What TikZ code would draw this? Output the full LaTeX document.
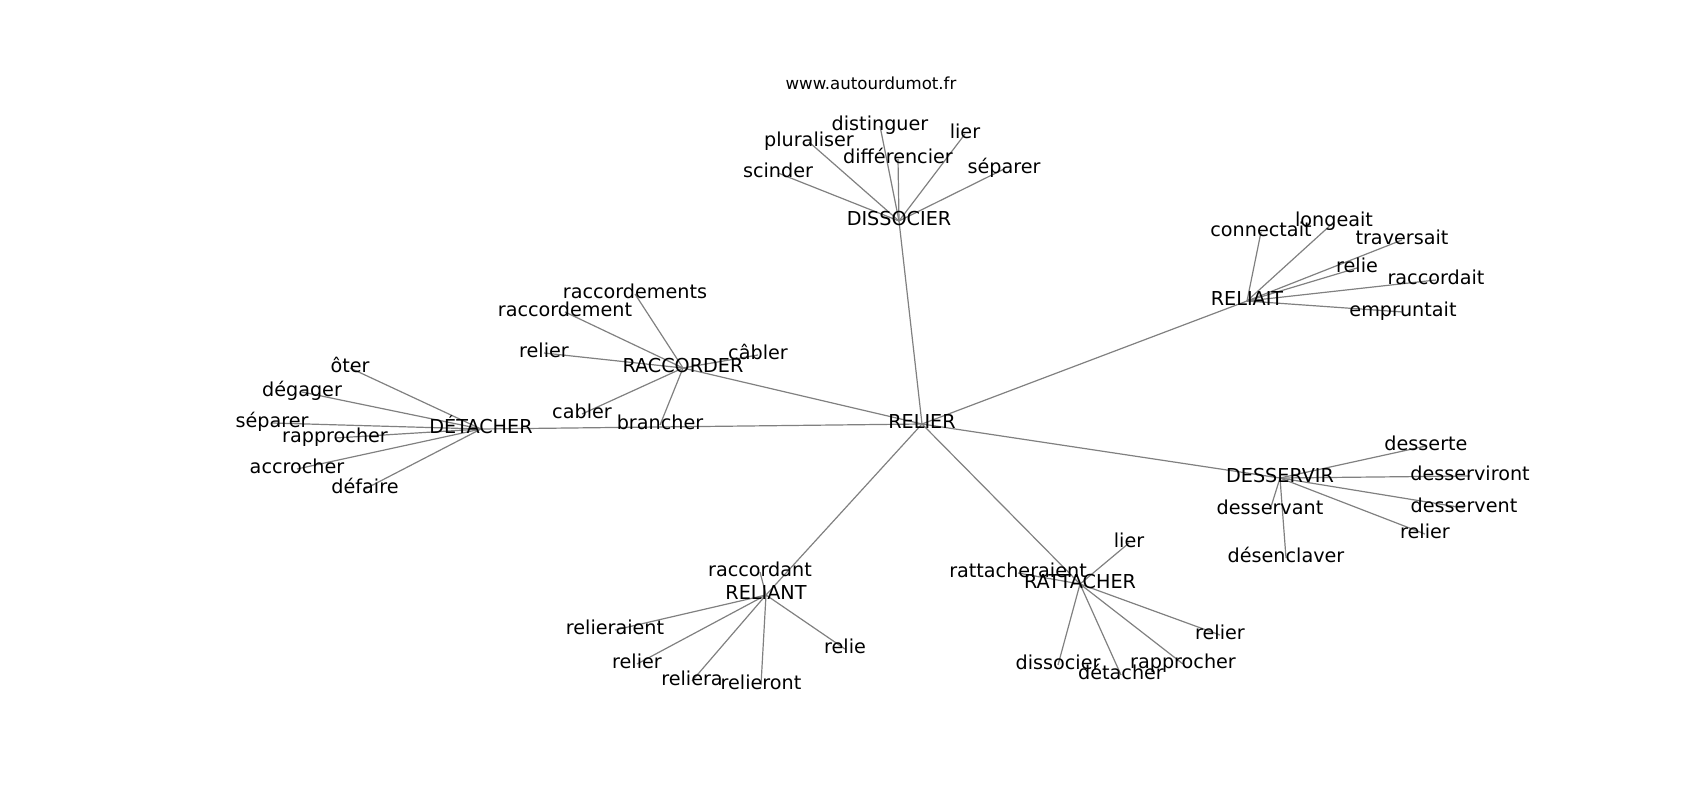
\documentclass[tikz,border=0pt]{standalone}
\usepackage{fontspec}
\setmainfont{DejaVu Sans}
\usetikzlibrary{backgrounds}
\definecolor{edgegray}{RGB}{128,128,128}
\tikzset{
  lbl/.style={inner sep=0pt, text height=1.09em, text depth=0.236em, anchor=center,
    font=\fontsize{19.2}{21}\selectfont, text=black},
  ttl/.style={inner sep=0pt, anchor=center, font=\fontsize{16.6}{18}\selectfont, text=black},
  edge/.style={draw=edgegray, line width=1.2pt}
}
\begin{document}
\begin{tikzpicture}[x=1pt,y=-1pt]
\useasboundingbox (0,0) rectangle (1700,800);
\node[ttl] (title) at (871,83) {www.autourdumot.fr};
% hubs
\node[lbl] (relier) at (922,424) {RELIER};
\node[lbl] (dissocier) at (899,221) {DISSOCIER};
\node[lbl] (reliait) at (1247,301) {RELIAIT};
\node[lbl] (raccorder) at (683,368) {RACCORDER};
\node[lbl] (detacher) at (481,429) {DÉTACHER};
\node[lbl] (desservir) at (1280,478) {DESSERVIR};
\node[lbl] (reliant) at (766,595) {RELIANT};
\node[lbl] (rattacher) at (1080,584) {RATTACHER};
% DISSOCIER
\node[lbl] (d1) at (778,173) {scinder};
\node[lbl] (d2) at (809,142) {pluraliser};
\node[lbl] (d3) at (880,126) {distinguer};
\node[lbl] (d4) at (898,159) {différencier};
\node[lbl] (d5) at (965,134) {lier};
\node[lbl] (d6) at (1004,169) {séparer};
% RELIAIT
\node[lbl] (r1) at (1261,232) {connectait};
\node[lbl] (r2) at (1334,222) {longeait};
\node[lbl] (r3) at (1402,240) {traversait};
\node[lbl] (r4) at (1357,268) {relie};
\node[lbl] (r5) at (1436,280) {raccordait};
\node[lbl] (r6) at (1403,312) {empruntait};
% RACCORDER
\node[lbl] (c1) at (635,294) {raccordements};
\node[lbl] (c2) at (565,312) {raccordement};
\node[lbl] (c3) at (544,353) {relier};
\node[lbl] (c4) at (758,355) {câbler};
\node[lbl] (c5) at (582,414) {cabler};
\node[lbl] (c6) at (660,425) {brancher};
% DETACHER
\node[lbl] (t1) at (350,368) {ôter};
\node[lbl] (t2) at (302,392) {dégager};
\node[lbl] (t3) at (272,423) {séparer};
\node[lbl] (t4) at (335,438) {rapprocher};
\node[lbl] (t5) at (297,469) {accrocher};
\node[lbl] (t6) at (365,489) {défaire};
% DESSERVIR
\node[lbl] (s1) at (1426,446) {desserte};
\node[lbl] (s2) at (1470,476) {desserviront};
\node[lbl] (s3) at (1464,508) {desservent};
\node[lbl] (s4) at (1270,510) {desservant};
\node[lbl] (s5) at (1425,534) {relier};
\node[lbl] (s6) at (1286,558) {désenclaver};
% RELIANT
\node[lbl] (n1) at (760,572) {raccordant};
\node[lbl] (n2) at (615,630) {relieraient};
\node[lbl] (n3) at (637,664) {relier};
\node[lbl] (n4) at (692,681) {reliera};
\node[lbl] (n5) at (761,685) {relieront};
\node[lbl] (n6) at (845,649) {relie};
% RATTACHER
\node[lbl] (a1) at (1129,543) {lier};
\node[lbl] (a2) at (1018,573) {rattacheraient};
\node[lbl] (a3) at (1220,635) {relier};
\node[lbl] (a4) at (1183,664) {rapprocher};
\node[lbl] (a5) at (1058,665) {dissocier};
\node[lbl] (a6) at (1121,675) {détacher};
\begin{pgfonlayer}{background}
\foreach \h in {dissocier,reliait,raccorder,detacher,desservir,reliant,rattacher}
  \draw[edge] (relier.center) -- (\h.center);
\foreach \c in {d1,d2,d3,d4,d5,d6} \draw[edge] (dissocier.center) -- (\c.center);
\foreach \c in {r1,r2,r3,r4,r5,r6} \draw[edge] (reliait.center) -- (\c.center);
\foreach \c in {c1,c2,c3,c4,c5,c6} \draw[edge] (raccorder.center) -- (\c.center);
\foreach \c in {t1,t2,t3,t4,t5,t6} \draw[edge] (detacher.center) -- (\c.center);
\foreach \c in {s1,s2,s3,s4,s5,s6} \draw[edge] (desservir.center) -- (\c.center);
\foreach \c in {n1,n2,n3,n4,n5,n6} \draw[edge] (reliant.center) -- (\c.center);
\foreach \c in {a1,a2,a3,a4,a5,a6} \draw[edge] (rattacher.center) -- (\c.center);
\end{pgfonlayer}
\end{tikzpicture}
\end{document}
